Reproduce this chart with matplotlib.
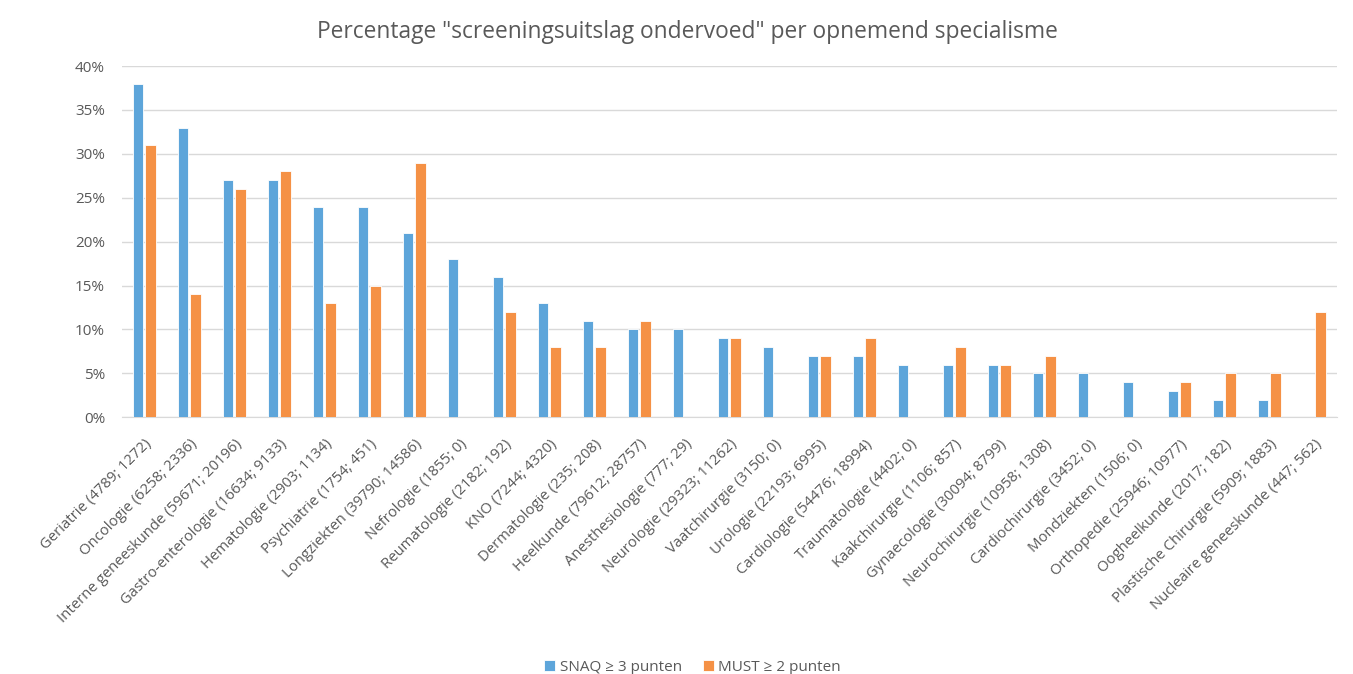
import numpy as np
import matplotlib
matplotlib.use('Agg')
import matplotlib.pyplot as plt
from matplotlib.ticker import PercentFormatter, MultipleLocator

plt.rcParams['font.family'] = ['Open Sans', 'DejaVu Sans']

# Data
specialismen = ['Geriatrie', 'Oncologie', 'Interne geneeskunde', 'Gastro-enterologie',
                'Hematologie', 'Psychiatrie', 'Longziekten', 'Nefrologie', 'Reumatologie',
                'KNO', 'Dermatologie', 'Heelkunde', 'Anesthesiologie', 'Neurologie',
                'Vaatchirurgie', 'Urologie', 'Cardiologie', 'Traumatologie', 'Kaakchirurgie',
                'Gynaecologie', 'Neurochirurgie', 'Cardiochirurgie', 'Mondziekten',
                'Orthopedie', 'Oogheelkunde', 'Plastische Chirurgie', 'Nucleaire geneeskunde']
n_snaq = [4789, 6258, 59671, 16634, 2903, 1754, 39790, 1855, 2182, 7244, 235, 79612, 777,
          29323, 3150, 22193, 54476, 4402, 1106, 30094, 10958, 3452, 1506, 25946, 2017, 5909, 447]
n_must = [1272, 2336, 20196, 9133, 1134, 451, 14586, 0, 192, 4320, 208, 28757, 29,
          11262, 0, 6995, 18994, 0, 857, 8799, 1308, 0, 0, 10977, 182, 1883, 562]

snaq_pct = [38, 33, 27, 27, 24, 24, 21, 18, 16, 13, 11, 10, 10, 9, 8, 7, 7, 6, 6, 6, 5, 5, 4, 3, 2, 2, 0]
must_pct = [31, 14, 26, 28, 13, 15, 29, 0, 12, 8, 8, 11, 0, 9, 0, 7, 9, 0, 8, 6, 7, 0, 0, 4, 5, 5, 12]

labels = ['%s (%d; %d)' % (s, a, b) for s, a, b in zip(specialismen, n_snaq, n_must)]

blue = '#5DA5DA'
orange = '#F59145'
grey = '#595959'

fig = plt.figure(figsize=(13.53, 6.74), dpi=100)
ax = fig.add_axes([0.090, 0.381, 0.898, 0.521])

x = np.arange(len(labels))
w = 0.24
ax.bar(x - 0.14, snaq_pct, w, color=blue, edgecolor='white', linewidth=0.6,
       label='SNAQ \u2265 3 punten', zorder=3)
ax.bar(x + 0.14, must_pct, w, color=orange, edgecolor='white', linewidth=0.6,
       label='MUST \u2265 2 punten', zorder=3)

ax.set_xlim(-0.5, len(labels) - 0.5)
ax.set_ylim(0, 40)
ax.yaxis.set_major_locator(MultipleLocator(5))
ax.yaxis.set_major_formatter(PercentFormatter(decimals=0))
ax.grid(axis='y', color='#D9D9D9', linewidth=1.0, zorder=0)

for s in ['top', 'right', 'left']:
    ax.spines[s].set_visible(False)
ax.spines['bottom'].set_color('#D9D9D9')
ax.tick_params(axis='both', length=0, colors=grey)
ax.tick_params(axis='y', labelsize=11, pad=12)
ax.tick_params(axis='x', labelsize=10.7, pad=14)

ax.set_xticks(x)
ax.set_xticklabels(labels, rotation=45, ha='right', rotation_mode='anchor')

fig.suptitle('Percentage "screeningsuitslag ondervoed" per opnemend specialisme',
             x=0.508, y=0.970, fontsize=16.4, color=grey)

fig.legend(loc='center', bbox_to_anchor=(0.512, 0.010), ncol=2, frameon=False,
           fontsize=11, labelcolor=grey, handlelength=0.7, handleheight=0.7,
           handletextpad=0.3, columnspacing=1.4)

fig.savefig('out.png', dpi=100)
